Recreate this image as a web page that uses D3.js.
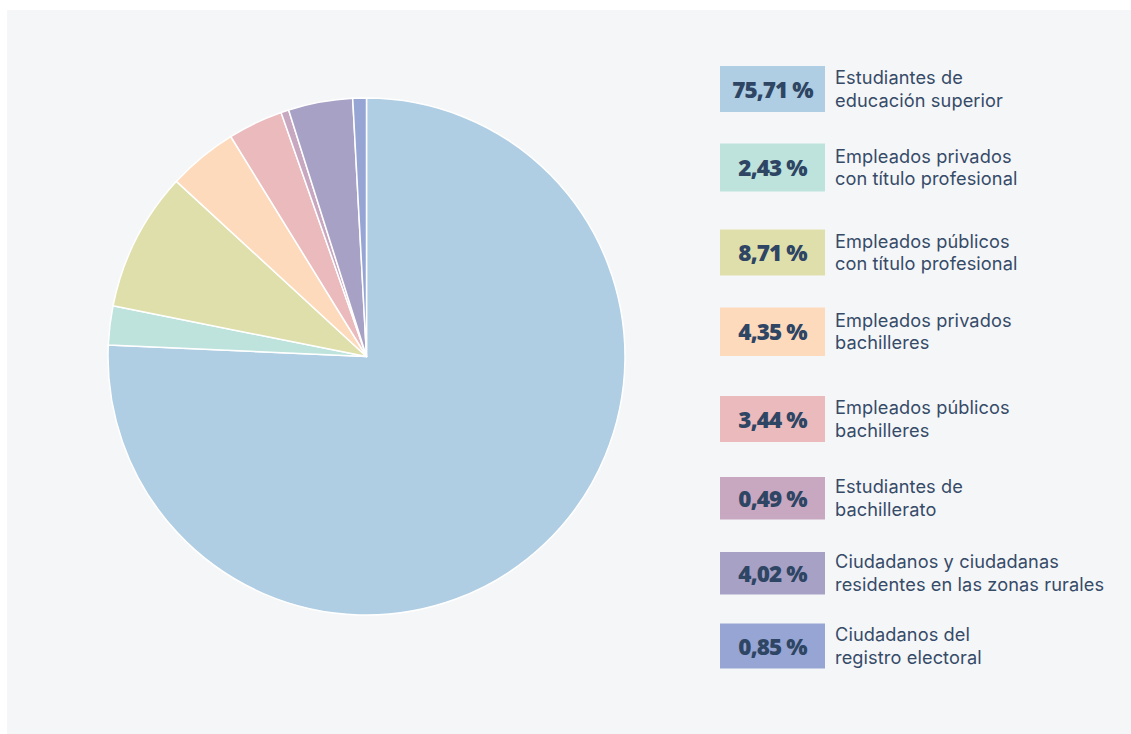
<!DOCTYPE html>
<html>
<head>
<meta charset="utf-8">
<script src="https://cdn.jsdelivr.net/npm/d3@7"></script>
<style>
  html, body { margin: 0; padding: 0; background: #ffffff; }
  svg { display: block; }
</style>
</head>
<body>
<svg id="chart" width="1131" height="734"></svg>
<script>
// ---- data ----
const categories = [
  ["Estudiantes de", "educación superior"],
  ["Empleados privados", "con título profesional"],
  ["Empleados públicos", "con título profesional"],
  ["Empleados privados", "bachilleres"],
  ["Empleados públicos", "bachilleres"],
  ["Estudiantes de", "bachillerato"],
  ["Ciudadanos y ciudadanas", "residentes en las zonas rurales"],
  ["Ciudadanos del", "registro electoral"]
];
const values = [75.71, 2.43, 8.71, 4.35, 3.44, 0.49, 4.02, 0.85];
const valueLabels = ["75,71 %", "2,43 %", "8,71 %", "4,35 %", "3,44 %", "0,49 %", "4,02 %", "0,85 %"];
const colors = ["#afcde3", "#bde3dc", "#dfdfab", "#fedabd", "#ebbabd", "#c8a7c0", "#a8a1c6", "#97a5d4"];

// ---- layout ----
const W = 1131, H = 734;
const cx = 366.5, cy = 356.5, R = 258.5;
const legendX = 720, boxW = 105, textX = 835;
const legendTops = [66, 143.5, 229.5, 307.5, 396, 477, 552, 623.5];
const legendHeights = [46, 48, 46, 48.5, 46, 42.5, 42.5, 45];

const svg = d3.select("#chart");

svg.append("rect").attr("x", 7).attr("y", 10).attr("width", W - 7).attr("height", H - 10)
  .attr("fill", "#f5f6f8");

const idx = d3.range(values.length);
const pie = d3.pie().sort(null).value(i => values[i]);
const arc = d3.arc().innerRadius(0).outerRadius(R);

const color = d3.scaleOrdinal().domain(idx).range(colors);

svg.append("g").attr("transform", `translate(${cx},${cy})`)
  .selectAll("path").data(pie(idx)).join("path")
  .attr("d", arc)
  .attr("fill", d => color(d.data))
  .attr("stroke", "#ffffff")
  .attr("stroke-width", 1.5)
  .attr("stroke-linejoin", "round");

const leg = svg.append("g").selectAll("g").data(idx).join("g")
  .attr("transform", i => `translate(${legendX},${legendTops[i]})`);

leg.append("rect")
  .attr("width", boxW)
  .attr("height", i => legendHeights[i])
  .attr("fill", i => color(i));

leg.append("text")
  .attr("x", boxW / 2)
  .attr("y", i => legendHeights[i] / 2 + 8.5)
  .attr("text-anchor", "middle")
  .attr("font-family", "'Open Sans', sans-serif")
  .attr("font-weight", 800)
  .attr("font-size", 22.5)
  .attr("letter-spacing", -0.9)
  .attr("fill", "#2e4564")
  .text(i => valueLabels[i]);

const lbl = leg.append("text")
  .attr("x", textX - legendX)
  .attr("y", i => legendHeights[i] / 2 - 5)
  .attr("font-family", "Inter, 'Open Sans', sans-serif")
  .attr("font-size", 18.2)
  .attr("letter-spacing", 0.1)
  .attr("fill", "#354b68");

lbl.selectAll("tspan").data(i => categories[i]).join("tspan")
  .attr("x", textX - legendX)
  .attr("dy", (d, k) => k === 0 ? 0 : 22.5)
  .text(d => d);
</script>
</body>
</html>
